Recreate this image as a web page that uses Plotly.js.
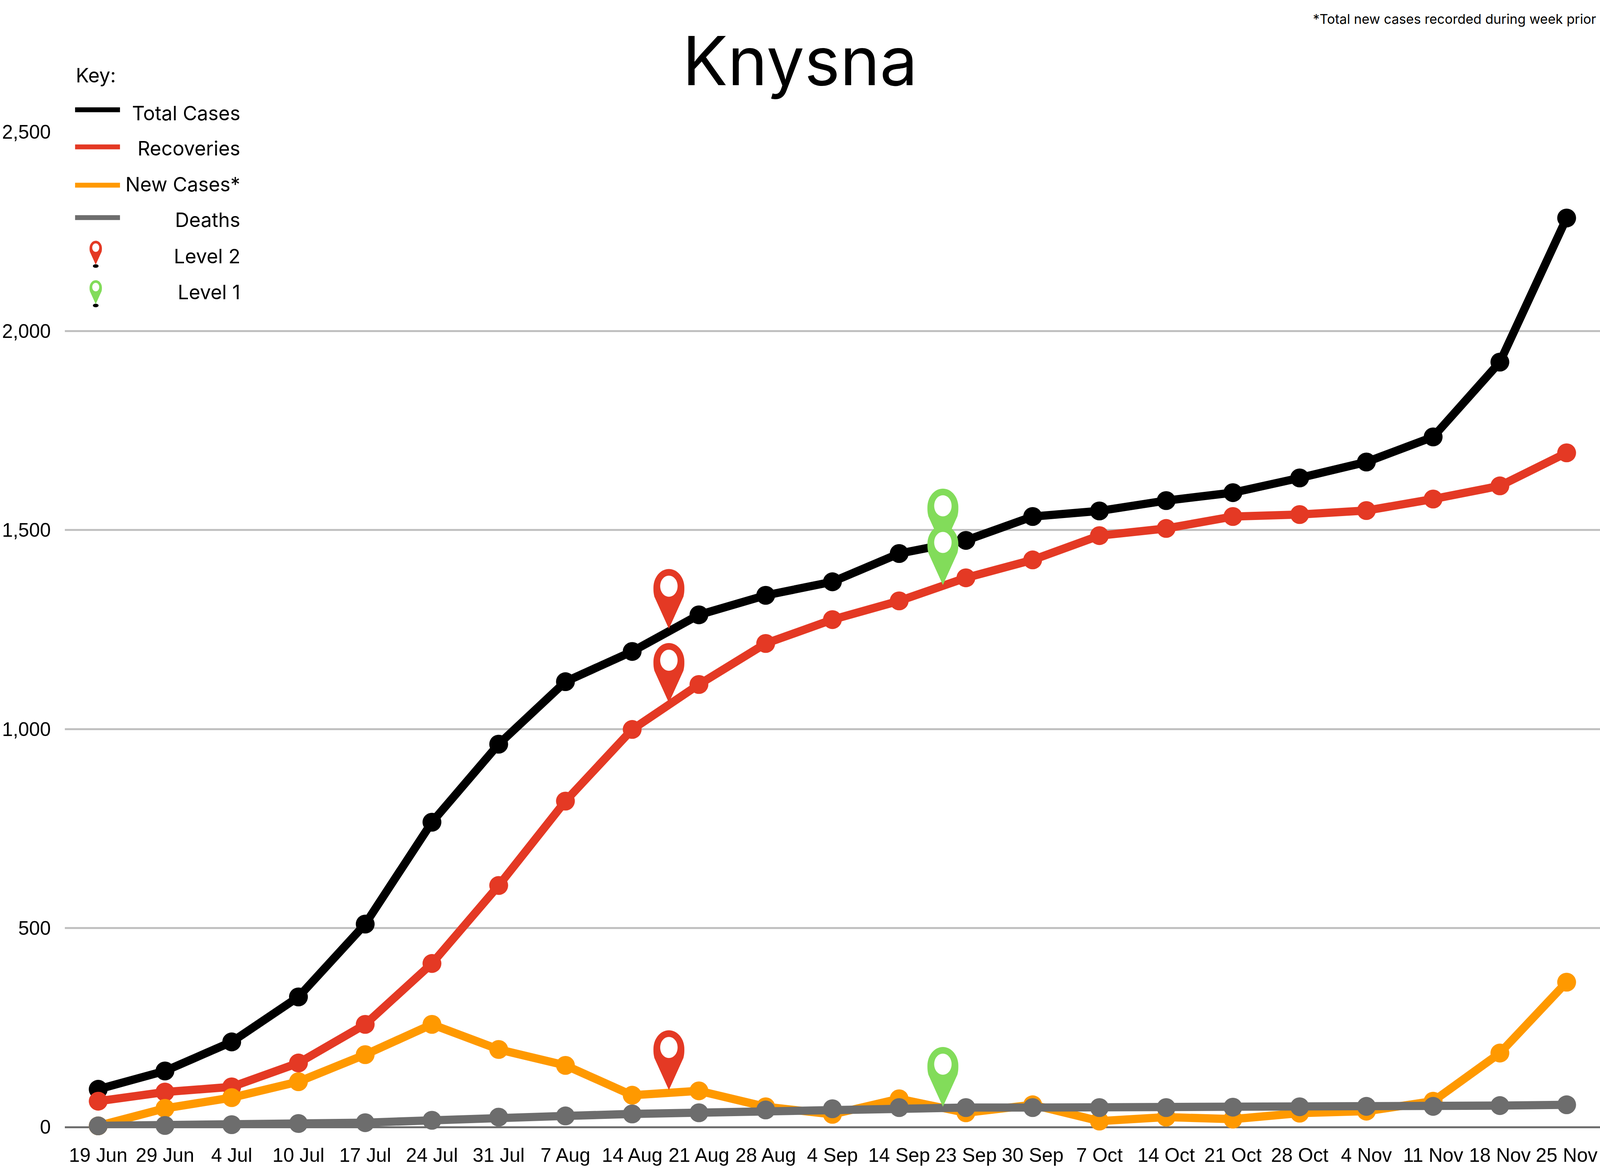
<!DOCTYPE html>
<html>
<head>
<meta charset="utf-8">
<script src="https://cdn.plot.ly/plotly-3.0.1.min.js"></script>
<style>html,body{margin:0;padding:0;background:#fff;overflow:hidden}</style>
</head>
<body>
<div id="chart"></div>
<script>
const categories = ['19 Jun','29 Jun','4 Jul','10 Jul','17 Jul','24 Jul','31 Jul','7 Aug','14 Aug','21 Aug','28 Aug','4 Sep','14 Sep','23 Sep','30 Sep','7 Oct','14 Oct','21 Oct','28 Oct','4 Nov','11 Nov','18 Nov','25 Nov'];
const totalCases = [95,141,214,327,510,766,962,1119,1195,1287,1336,1370,1441,1474,1534,1548,1574,1594,1631,1671,1734,1922,2284];
const recoveries = [65,88,101,161,258,411,607,819,999,1112,1215,1275,1322,1380,1425,1486,1504,1534,1539,1549,1578,1611,1694];
const newCases = [3,47,74,114,182,258,195,155,80,91,51,32,71,36,56,15,25,20,35,40,65,186,364];
const deaths = [3,4,6,9,11,17,25,28,33,36,43,46,49,49,49,49,49,50,51,52,52,54,56];
const level2Position = 8.55;
const level2Values = [1252,1066,93];
const level1Position = 12.655;
const level1Values = [1454,1362,51];
const yTicks = [0,500,1000,1500,2000,2500];
const keyLabels = ['Total Cases','Recoveries','New Cases*','Deaths','Level 2','Level 1'];

const BLACK='#000000', RED='#E43924', ORANGE='#FF9900', GRAY='#6D6D6D', GREEN='#82DC5A';
// Geometry is authored for a 5310x3000 canvas and follows the real window.
const W=window.innerWidth||5310, H=window.innerHeight||3000;
const sx=W/5310, sy=H/3000, sm=Math.sqrt(sx*sy), st=Math.pow(sx,0.9);
const X=v=>v*sx, Y=v=>v*sy;
const L=X(215), R=0, T=Y(338), B=Y(115);
const PW=W-L-R, PH=H-T-B;
const px=x=>(X(x)-L)/PW, py=y=>(H-B-Y(y))/PH;
const FONT='Inter';
const keySize=63.5*st, noteSize=43*st, tickSize=63*st;

function series(name,y,color){
  return {type:'scatter',mode:'lines+markers',name,x:categories,y,cliponaxis:false,
    line:{color,width:24*sm},marker:{color,size:55*sm,line:{width:0}},hoverinfo:'skip'};
}
function pathFrom(points,ax,ay){
  const f=(a,b)=>(a*ax).toFixed(2)+' '+(b*ay).toFixed(2);
  return points.map(p=>p[0]+p.slice(1).map(q=>f(q[0],q[1])).join(' ')).join(' ')+' Z';
}
function teardrop(ax,ay){
  return pathFrom([
    ['M',[0,0]],['L',[-45,82]],
    ['C',[-48,92],[-48,98],[-48,105]],
    ['C',[-48,131.5],[-26.5,153],[0,153]],
    ['C',[26.5,153],[48,131.5],[48,105]],
    ['C',[48,98],[48,92],[45,82]]],ax,ay);
}
function hole(ax,ay){
  const c=109,r=27,k=15;
  return pathFrom([
    ['M',[-r,c]],
    ['C',[-r,c+k],[-k,c+r],[0,c+r]],
    ['C',[k,c+r],[r,c+k],[r,c]],
    ['C',[r,c-k],[k,c-r],[0,c-r]],
    ['C',[-k,c-r],[-r,c-k],[-r,c]]],ax,ay);
}
function pin(xanchor,yanchor,xref,yref,color,s){
  const base={type:'path',xref,yref,xsizemode:'pixel',ysizemode:'pixel',xanchor,yanchor,layer:'above',line:{width:0}};
  const ax=s*(sx+sm)/2, ay=s*sy;
  return [{...base,path:teardrop(ax,ay),fillcolor:color},{...base,path:hole(ax,ay),fillcolor:'#FFFFFF'}];
}
const shapes=[];
level2Values.forEach(v=>shapes.push(...pin(level2Position,v,'x','y',RED,1)));
level1Values.forEach(v=>shapes.push(...pin(level1Position,v,'x','y',GREEN,1)));

// key
const keyLineY=[281,376,474,557], keyLineColor=[BLACK,RED,ORANGE,GRAY];
keyLineY.forEach((y,i)=>shapes.push({type:'line',xref:'paper',yref:'paper',x0:px(249),x1:px(398),y0:py(y),y1:py(y),layer:'above',line:{color:keyLineColor[i],width:14*sm}}));
[[677.5,RED],[778.5,GREEN]].forEach(([y,c])=>{
  shapes.push({type:'circle',xref:'paper',yref:'paper',x0:px(308),x1:px(327),y0:py(y+8),y1:py(y-1),layer:'above',fillcolor:'#000',line:{width:0}});
  shapes.push(...pin(px(317.5),py(y),'paper','paper',c,0.4));
});
const keyBase=[309,399,491,582,675,767];
const txt=(text,x,base,size,anchor)=>({text,xref:'paper',yref:'paper',x:px(x),y:py(base+0.24*size/sy),xanchor:anchor,yanchor:'bottom',align:anchor,showarrow:false,borderpad:0,font:{family:FONT,size,color:'#000'}});
const annotations=keyLabels.map((t,i)=>txt(t,798,keyBase[i],keySize,'right'));
annotations.push(txt('Key:',250,212,keySize,'left'));
annotations.push(txt('*Total new cases recorded during week prior',5298,62,noteSize,'right'));

const layout={
  width:W,height:H,margin:{l:L,r:R,t:T,b:B,pad:0},
  paper_bgcolor:'#fff',plot_bgcolor:'#fff',showlegend:false,
  title:{text:'Knysna',x:px(2655),xref:'paper',xanchor:'center',y:1-158/3000,yref:'container',yanchor:'middle',font:{family:FONT,size:218*st,color:'#000'}},
  xaxis:{type:'category',categoryorder:'array',categoryarray:categories,tickmode:'array',tickvals:categories,ticktext:categories,
    tickangle:0,showgrid:false,zeroline:false,showline:false,ticks:'',ticklabelstandoff:Math.round(38*sy),
    tickfont:{family:'Liberation Sans',size:tickSize,color:'#000'},range:[-0.5,22.5],automargin:false},
  yaxis:{range:[0,2500],tickmode:'array',tickvals:yTicks,tickformat:',d',showgrid:true,gridcolor:'#C0C0C0',gridwidth:5,
    zeroline:true,zerolinecolor:GRAY,zerolinewidth:5,showline:false,ticks:'',ticklabelstandoff:Math.round(46*sx),
    tickfont:{family:'Liberation Sans',size:tickSize,color:'#000'},automargin:false},
  shapes,annotations
};
Plotly.newPlot('chart',[
  series('Total Cases',totalCases,BLACK),
  series('Recoveries',recoveries,RED),
  series('New Cases*',newCases,ORANGE),
  series('Deaths',deaths,GRAY)
],layout,{displayModeBar:false,responsive:false});
</script>
</body>
</html>
